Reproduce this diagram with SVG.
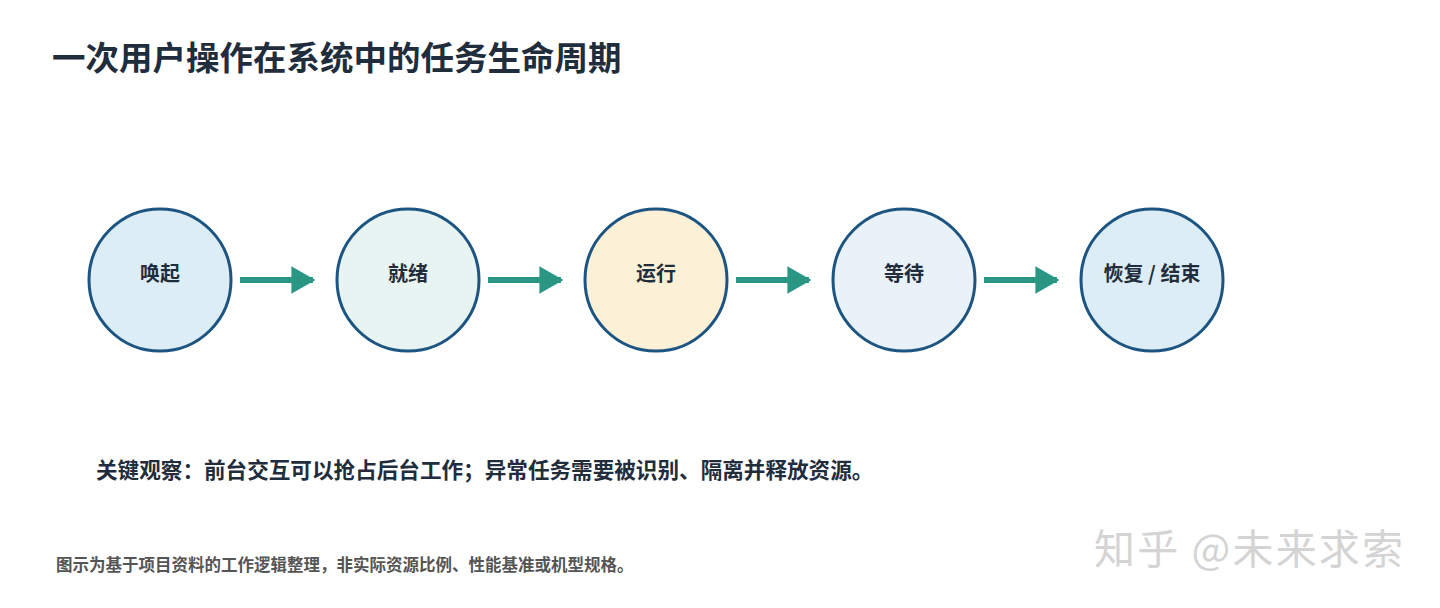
<svg xmlns="http://www.w3.org/2000/svg" width="1440" height="608" viewBox="0 0 1440 608">
<style>
text{font-family:"Noto Sans CJK SC","Noto Sans",sans-serif;font-weight:bold;fill:#1f2d3d}
.n{stroke:#1c5482;stroke-width:3}
.l{font-size:20px;text-anchor:middle}
.c line{stroke:#2a9683;stroke-width:6}
</style>
<defs><marker id="a" markerWidth="4" markerHeight="4.6" refX="3.6" refY="2.3" orient="auto" markerUnits="strokeWidth"><path d="M0,0L4,2.3L0,4.6z" fill="#2a9683"/></marker></defs>
<rect width="1440" height="608" fill="#fff"/>
<text x="52" y="70" font-size="33.5">一次用户操作在系统中的任务生命周期</text>
<g id="n1"><circle class="n" cx="160" cy="280" r="71" fill="#dcedf6"/><text class="l" x="160" y="276" dominant-baseline="middle">唤起</text></g>
<g id="n2"><circle class="n" cx="408" cy="280" r="71" fill="#e8f4f2"/><text class="l" x="408" y="276" dominant-baseline="middle">就绪</text></g>
<g id="n3"><circle class="n" cx="656" cy="280" r="71" fill="#fcf0d6"/><text class="l" x="656" y="276" dominant-baseline="middle">运行</text></g>
<g id="n4"><circle class="n" cx="904" cy="280" r="71" fill="#e9f2f9"/><text class="l" x="904" y="276" dominant-baseline="middle">等待</text></g>
<g id="n5"><circle class="n" cx="1152" cy="280" r="71" fill="#dcedf6"/><text class="l" x="1152" y="276" dominant-baseline="middle">恢复 / 结束</text></g>
<g class="c">
<line x1="240" y1="280" x2="313" y2="280" marker-end="url(#a)"/>
<line x1="488" y1="280" x2="561" y2="280" marker-end="url(#a)"/>
<line x1="736" y1="280" x2="809" y2="280" marker-end="url(#a)"/>
<line x1="984" y1="280" x2="1057" y2="280" marker-end="url(#a)"/>
</g>
<text x="96" y="478" font-size="21.6">关键观察：前台交互可以抢占后台工作；异常任务需要被识别、隔离并释放资源。</text>
<text x="56" y="571" font-size="16.5" style="fill:#555">图示为基于项目资料的工作逻辑整理，非实际资源比例、性能基准或机型规格。</text>
<text x="1094" y="564" font-size="41" textLength="309" style="fill:#d4d4d4;font-weight:normal">知乎 @未来求索</text>
</svg>
